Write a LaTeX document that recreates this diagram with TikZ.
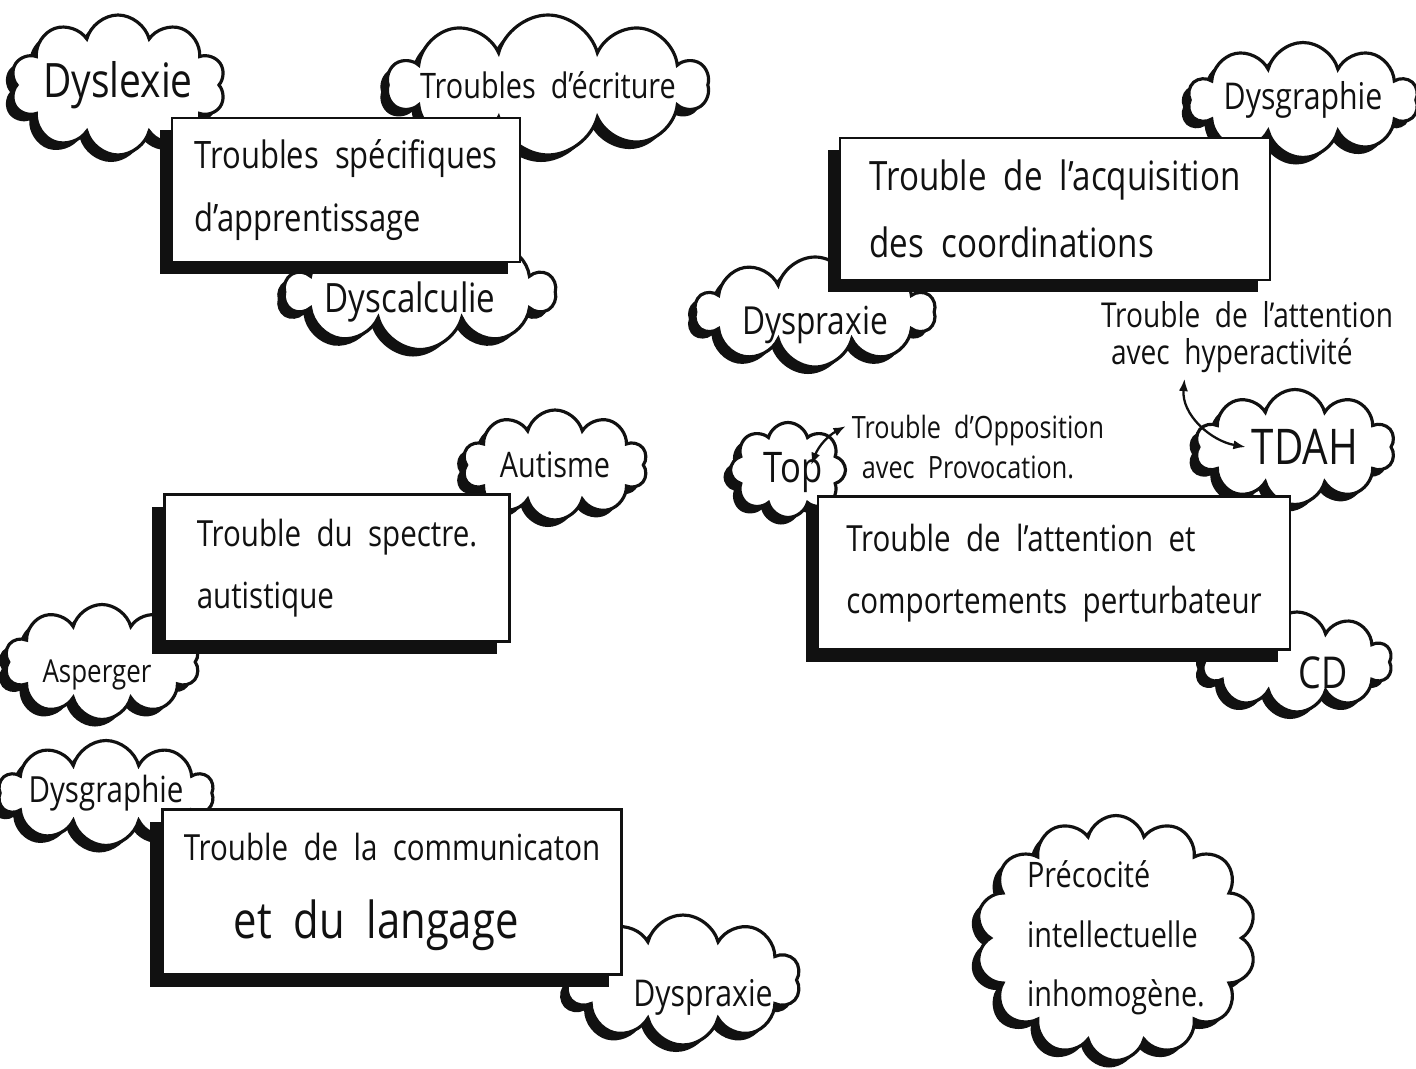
\documentclass[tikz,border=0pt]{standalone}
\usepackage{fontspec}
\setmainfont[FakeStretch=0.82, WordSpace=2]{Open Sans}
\usepackage{tikz}
\usetikzlibrary{arrows.meta,shadows,shapes.symbols}
\definecolor{ink}{HTML}{111111}
\newcommand{\fsz}[2]{\fontsize{#1}{#2}\selectfont}
\tikzset{
  bubble/.style={
    cloud,
    cloud puffs=10,
    cloud ignores aspect,
    draw=ink,
    line width=1.8pt,
    fill=white,
    inner sep=0pt,
    drop shadow={shadow xshift=-4pt, shadow yshift=-4pt, fill=ink, opacity=1}
  },
  bubbletext/.style={font=\fsz{20}{34}, text=ink, align=center},
  topicbox/.style={
    draw=ink,
    line width=1.6pt,
    fill=white,
    text=ink,
    align=left,
    font=\fsz{21}{36},
    drop shadow={shadow xshift=-7pt, shadow yshift=-7pt, fill=ink, opacity=1}
  },
  note/.style={text=ink, align=left, font=\fsz{17}{20}},
  linkarrow/.style={{Latex[length=7pt]}-{Latex[length=7pt]}, line width=1.3pt, draw=ink}
}
\begin{document}
\begin{tikzpicture}[x=0.02cm, y=-0.02cm]
  \useasboundingbox (0,0) rectangle (1416,1068);

  % clouds first, the boxes lie over them
  \node[bubble, minimum width=4.3cm, minimum height=2.8cm,
    label={[bubbletext, font=\fsz{27}{30}]center:Dyslexie}] (dyslexie) at (118,85) {};
  \node[bubble, minimum width=6.4cm, minimum height=2.8cm,
    label={[bubbletext, font=\fsz{20}{24}]center:Troubles d'écriture}] (ecriture) at (548,85) {};
  \node[bubble, minimum width=5.4cm, minimum height=2.3cm,
    label={[bubbletext, font=\fsz{23}{28}, xshift=-0.2cm, yshift=-0.2cm]center:Dyscalculie}] (dyscalc) at (420,292) {};

  \node[bubble, minimum width=4.6cm, minimum height=2.3cm,
    label={[bubbletext, font=\fsz{21}{26}]center:Dysgraphie}] (dysgraphA) at (1303,100) {};
  \node[bubble, minimum width=4.8cm, minimum height=2.2cm,
    label={[bubbletext, font=\fsz{22}{26}, yshift=-0.25cm]center:Dyspraxie}] (dyspraxA) at (815,312) {};

  \node[bubble, minimum width=3.7cm, minimum height=2.2cm,
    label={[bubbletext]center:Autisme}] (autisme) at (555,465) {};
  \node[bubble, minimum width=3.9cm, minimum height=2.3cm,
    label={[bubbletext, font=\fsz{18}{20}, xshift=-0.1cm, yshift=-0.25cm]center:Asperger}] (asperger) at (102,662) {};

  \node[bubble, cloud puffs=8, minimum width=2.3cm, minimum height=1.9cm,
    label={[bubbletext, font=\fsz{24}{28}, name=toptxt, xshift=0.1cm, yshift=-0.05cm]center:Top}] (topc) at (788,470) {};
  \node[bubble, minimum width=4.0cm, minimum height=2.3cm,
    label={[bubbletext, font=\fsz{28}{32}, name=tdahtxt, xshift=0.2cm]center:TDAH}] (tdah) at (1295,447) {};
  \node[bubble, minimum width=3.8cm, minimum height=2.0cm,
    label={[bubbletext, font=\fsz{25}{30}, xshift=0.52cm, yshift=-0.22cm]center:CD}] (cd) at (1297,662) {};

  \node[bubble, minimum width=4.3cm, minimum height=2.1cm,
    label={[bubbletext, font=\fsz{20.5}{26}]center:Dysgraphie}] (dysgraphB) at (106,793) {};
  \node[bubble, minimum width=4.7cm, minimum height=2.6cm,
    label={[bubbletext, font=\fsz{21}{26}, xshift=0.4cm, yshift=-0.35cm]center:Dyspraxie}] (dyspraxB) at (683,980) {};

  \node[bubble, cloud puffs=14, minimum width=5.6cm, minimum height=4.9cm,
    label={[bubbletext, align=left, font=\fsz{20}{34}]center:Précocité\\intellectuelle\\inhomogène.}] (precoce) at (1116,938) {};

  % boxes
  \node[topicbox, font=\fsz{21.5}{36}, minimum width=6.96cm, minimum height=2.88cm] (apprent) at (346,190)
    {Troubles spécifiques\\d'apprentissage};
  \node[topicbox, font=\fsz{23}{38}, minimum width=8.6cm, minimum height=2.84cm] (coord) at (1055,209)
    {Trouble de l'acquisition\\des coordinations};
  \node[topicbox, font=\fsz{20.5}{35}, minimum width=6.9cm, minimum height=2.95cm] (spectre) at (337,568)
    {Trouble du spectre.\\autistique};
  \node[topicbox, font=\fsz{20.5}{35}, minimum width=9.44cm, minimum height=3.06cm] (attention) at (1054,573)
    {Trouble de l'attention et\\comportements perturbateur};
  \node[topicbox, font=\fsz{20.5}{44}, minimum width=9.18cm, minimum height=3.3cm] (langage) at (392,892)
    {Trouble de la communicaton\\\hspace*{1cm}{\fsz{29}{44}et du langage}};

  % free notes
  \node[note, font=\fsz{19.5}{21}] (hyper) at (1247,337) {Trouble de l'attention\\\hspace*{0.2cm}avec hyperactivité};
  \node[note, font=\fsz{17.5}{23}] (oppo) at (978,447) {Trouble d'Opposition\\\hspace*{0.2cm}avec Provocation.};

  \draw[linkarrow] ([xshift=-1.25cm]hyper.south) to[out=-95, in=170] (tdahtxt.west);
  \draw[linkarrow] ([xshift=-0.35cm, yshift=0.15cm]toptxt.east) to[bend left=20] ([yshift=-0.35cm]oppo.north west);
\end{tikzpicture}
\end{document}
